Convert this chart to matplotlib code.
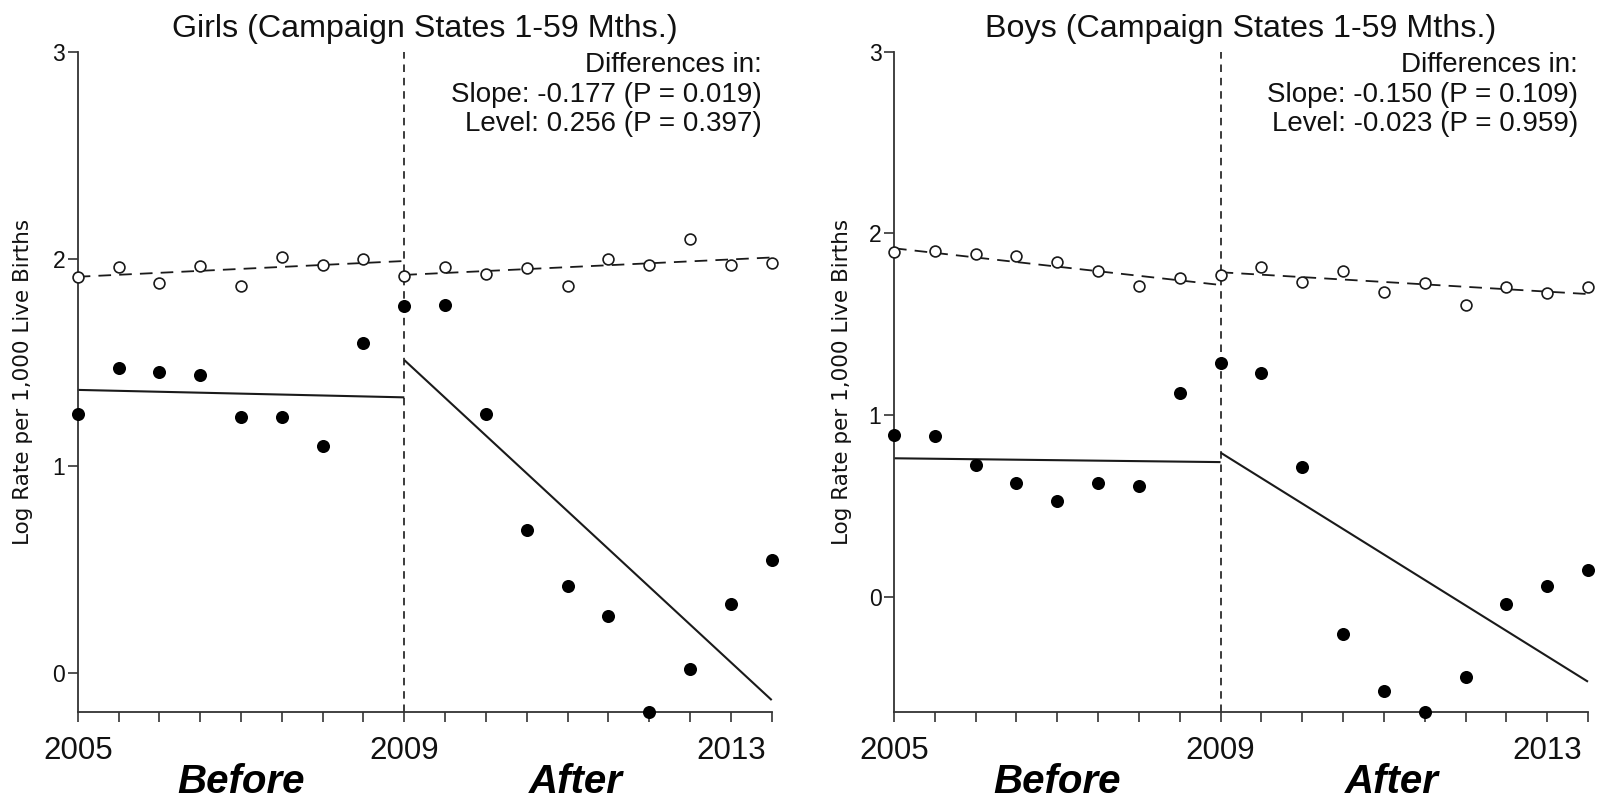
import numpy as np
import matplotlib
matplotlib.use("Agg")
import matplotlib.pyplot as plt

# ---------------- data ----------------
years = [2005.0, 2005.5, 2006.0, 2006.5, 2007.0, 2007.5, 2008.0, 2008.5,
         2009.0, 2009.5, 2010.0, 2010.5, 2011.0, 2011.5, 2012.0, 2012.5,
         2013.0, 2013.5]

girls_open = [1.915, 1.963, 1.886, 1.967, 1.870, 2.007, 1.970, 2.002,
              1.919, 1.959, 1.927, 1.954, 1.867, 2.002, 1.970, 2.098,
              1.970, 1.980]
girls_filled = [1.252, 1.472, 1.453, 1.442, 1.236, 1.236, 1.095, 1.594,
                1.774, 1.779, 1.252, 0.690, 0.421, 0.278, -0.185, 0.019,
                0.337, 0.549]
boys_open = [1.896, 1.905, 1.886, 1.877, 1.841, 1.793, 1.712, 1.756,
             1.771, 1.817, 1.734, 1.793, 1.679, 1.725, 1.606, 1.703,
             1.670, 1.703]
boys_filled = [0.890, 0.885, 0.725, 0.624, 0.527, 0.628, 0.609, 1.120,
               1.288, 1.230, 0.712, -0.205, -0.517, -0.633, -0.444, -0.042,
               0.061, 0.147]

# fitted segments (endpoint values at start/end of each period)
fit_pre_x = [2005.0, 2009.0]
fit_post_x = [2009.0, 2013.5]
girls_filled_pre_fit = [1.368, 1.332]
girls_filled_post_fit = [1.512, -0.129]
girls_open_pre_fit = [1.914, 1.990]
girls_open_post_fit = [1.923, 2.007]
boys_filled_pre_fit = [0.762, 0.741]
boys_filled_post_fit = [0.793, -0.468]
boys_open_pre_fit = [1.918, 1.716]
boys_open_post_fit = [1.786, 1.666]

titles = ["Girls (Campaign States 1-59 Mths.)", "Boys (Campaign States 1-59 Mths.)"]
annot_slope = ["Slope: -0.177 (P = 0.019)", "Slope: -0.150 (P = 0.109)"]
annot_level = ["Level: 0.256 (P = 0.397)", "Level: -0.023 (P = 0.959)"]
ylims = [(-0.185, 3.0), (-0.633, 3.0)]
yticks = [0, 1, 2, 3]
xtick_labels = {2005.0: "2005", 2009.0: "2009", 2013.0: "2013"}
period_labels = ["Before", "After"]
period_x = [2007.0, 2011.1]
ylabel = "Log Rate per 1,000 Live Births"
cutoff = 2009.0

# ---------------- figure ----------------
plt.rcParams['font.family'] = ['Liberation Sans', 'DejaVu Sans']
fig = plt.figure(figsize=(16.02, 8.02), dpi=100)

axes_rects = [[77.7 / 1602, 0.1126, 694 / 1602, 0.8229],
              [894 / 1602, 0.1126, 694 / 1602, 0.8229]]
ylabel_x = [23.5, 842]

panels = [
    (girls_open, girls_filled, girls_open_pre_fit, girls_open_post_fit,
     girls_filled_pre_fit, girls_filled_post_fit),
    (boys_open, boys_filled, boys_open_pre_fit, boys_open_post_fit,
     boys_filled_pre_fit, boys_filled_post_fit),
]

col = '#1a1a1a'
for i, (op, fl, opre, opost, fpre, fpost) in enumerate(panels):
    ax = fig.add_axes(axes_rects[i])
    ax.set_xlim(years[0], years[-1])
    ax.set_ylim(*ylims[i])

    # vertical cutoff line
    ax.plot([cutoff, cutoff], [ylims[i][0], ylims[i][1]], color=col, lw=1.2,
            ls=(0, (4.5, 3.5)), clip_on=False, zorder=1)

    # fitted lines
    ax.plot(fit_pre_x, fpre, color=col, lw=1.5, solid_capstyle='butt', clip_on=False)
    ax.plot(fit_post_x, fpost, color=col, lw=1.5, solid_capstyle='butt', clip_on=False)
    ax.plot(fit_pre_x, opre, color=col, lw=1.3, ls=(0, (7, 4.5)), clip_on=False)
    ax.plot(fit_post_x, opost, color=col, lw=1.3, ls=(0, (7, 4.5)), clip_on=False)

    # points
    ax.plot(years, op, ls='none', marker='o', ms=7.8, mfc='white', mec=col,
            mew=1.2, clip_on=False, zorder=3)
    ax.plot(years, fl, ls='none', marker='o', ms=9.4, mfc='black', mec='black',
            mew=0, clip_on=False, zorder=3)

    # spines & ticks
    for s in ['top', 'right']:
        ax.spines[s].set_visible(False)
    for s in ['left', 'bottom']:
        ax.spines[s].set_linewidth(1.3)
        ax.spines[s].set_color('#333333')
    ax.set_xticks(years)
    ax.set_xticklabels([xtick_labels.get(y, "") for y in years])
    ax.set_yticks(yticks)
    ax.set_yticklabels([str(t) for t in yticks])
    ax.tick_params(axis='x', length=7.2, width=1.2, color='#333333', pad=10,
                   labelsize=22.5, labelcolor='#111111')
    ax.tick_params(axis='y', length=7.5, width=1.2, color='#333333', pad=1.5,
                   labelsize=16.5, labelcolor='#111111')

    ax.set_title(titles[i], fontsize=23.2, pad=10.6, color='#111111')

    # annotation block
    tx = (761.7 - 77.7) / 694
    ax.text(tx, 0.9688, "Differences in:", transform=ax.transAxes, ha='right',
            va='baseline', fontsize=20, color='#111111')
    ax.text(tx, 0.9245, annot_slope[i], transform=ax.transAxes, ha='right',
            va='baseline', fontsize=20, color='#111111')
    ax.text(tx, 0.8803, annot_level[i], transform=ax.transAxes, ha='right',
            va='baseline', fontsize=20, color='#111111')

    # period labels
    for lab, px in zip(period_labels, period_x):
        ax.text(px, -0.123, lab, transform=ax.get_xaxis_transform(), ha='center',
                va='baseline', fontsize=29, fontweight='bold', fontstyle='italic',
                color='black')

    # y label
    fig.text(ylabel_x[i] / 1602, 1 - 381.7 / 802, ylabel, rotation=90,
             ha='center', va='center', fontsize=15.5, family='DejaVu Sans',
             color='#111111')

fig.savefig("out.png", dpi=100)
